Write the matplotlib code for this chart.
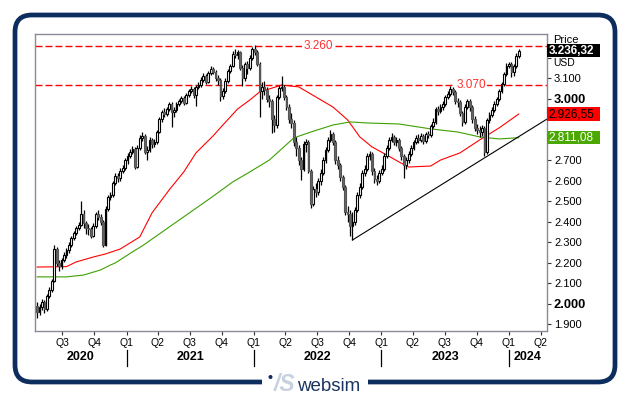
import numpy as np
import pandas as pd
import matplotlib
matplotlib.use("Agg")
import matplotlib.pyplot as plt
import matplotlib.dates as mdates
import matplotlib.transforms as mtransforms
from matplotlib.patches import FancyBboxPatch, Rectangle, Circle

plt.rcParams['font.family'] = ['Liberation Sans', 'DejaVu Sans']

# ==== Weekly candles ====
first_week = "2020-04-20"
first_open = 1990
closes = [
    1960, 1985, 2010, 1975, 2040, 2070, 2110, 2270, 2200, 2185,
    2215, 2240, 2265, 2290, 2320, 2345, 2370, 2385, 2440, 2395,
    2370, 2365, 2330, 2380, 2440, 2425, 2400, 2290, 2465, 2520,
    2530, 2590, 2625, 2615, 2650, 2665, 2700, 2720, 2740, 2755,
    2670, 2760, 2810, 2820, 2740, 2750, 2800, 2780, 2790, 2840,
    2900, 2935, 2925, 2950, 2975, 2935, 2945, 2975, 2990, 3005,
    2980, 3020, 3040, 3050, 3020, 3060, 3070, 3095, 3110, 3085,
    3125, 3145, 3130, 3100, 3095, 3015, 3040, 3090, 3135, 3160,
    3220, 3215, 3230, 3150, 3100, 3170, 3150, 3200, 3245, 3230,
    3170, 3040, 3060, 3045, 3000, 2990, 2900, 2875, 3010, 3055,
    3060, 3010, 2960, 2900, 2885, 2790, 2760, 2700, 2660, 2780,
    2790, 2650, 2490, 2560, 2545, 2600, 2640, 2700, 2750, 2800,
    2830, 2790, 2700, 2680, 2620, 2570, 2450, 2440, 2380, 2400,
    2460, 2530, 2570, 2640, 2660, 2720, 2730, 2650, 2610, 2600,
    2640, 2660, 2720, 2760, 2800, 2815, 2790, 2800, 2760, 2720,
    2680, 2700, 2730, 2760, 2790, 2810, 2800, 2820, 2795, 2830,
    2825, 2870, 2890, 2950, 2940, 2960, 2975, 3010, 3025, 3050,
    3035, 2990, 2985, 2930, 2890, 2960, 2990, 2960, 2900, 2860,
    2850, 2840, 2860, 2740, 2895, 2920, 2945, 2975, 3000, 3040,
    3075, 3120, 3160, 3170, 3130, 3160, 3210, 3236.32,
]
highs = [
    2010, 2000, 2025, 2020, 2050, 2085, 2120, 2290, 2280, 2215,
    2225, 2255, 2275, 2300, 2330, 2355, 2380, 2400, 2500, 2460,
    2405, 2390, 2375, 2395, 2450, 2460, 2440, 2410, 2480, 2530,
    2545, 2600, 2640, 2640, 2665, 2680, 2710, 2735, 2755, 2770,
    2765, 2775, 2825, 2839, 2830, 2770, 2815, 2810, 2805, 2850,
    2910, 2945, 2955, 2960, 2985, 2985, 2960, 2985, 3000, 3015,
    3015, 3030, 3050, 3062, 3060, 3070, 3085, 3105, 3125, 3120,
    3135, 3160, 3155, 3140, 3115, 3100, 3055, 3100, 3145, 3170,
    3235, 3244, 3240, 3235, 3165, 3180, 3185, 3215, 3255, 3263,
    3240, 3180, 3085, 3090, 3060, 3020, 3000, 2920, 3020, 3070,
    3112, 3070, 3020, 2975, 2930, 2895, 2815, 2775, 2715, 2795,
    2805, 2800, 2660, 2575, 2590, 2615, 2660, 2715, 2765, 2815,
    2849, 2840, 2800, 2720, 2690, 2630, 2580, 2480, 2460, 2450,
    2475, 2545, 2590, 2655, 2680, 2737, 2745, 2740, 2665, 2630,
    2655, 2680, 2735, 2775, 2815, 2832, 2825, 2815, 2810, 2770,
    2730, 2715, 2745, 2775, 2800, 2825, 2830, 2832, 2830, 2840,
    2845, 2880, 2905, 2960, 2965, 2975, 2990, 3020, 3040, 3063,
    3060, 3045, 3005, 2995, 2940, 2975, 3000, 3000, 2970, 2915,
    2880, 2870, 2875, 2868, 2905, 2935, 2960, 2990, 3012, 3050,
    3085, 3130, 3175, 3182, 3178, 3172, 3222, 3245,
]
lows = [
    1932, 1945, 1970, 1955, 1965, 2030, 2060, 2105, 2185, 2160,
    2170, 2205, 2225, 2250, 2280, 2310, 2335, 2360, 2380, 2370,
    2340, 2335, 2320, 2325, 2370, 2410, 2385, 2278, 2285, 2455,
    2505, 2520, 2580, 2595, 2600, 2640, 2655, 2685, 2710, 2730,
    2660, 2665, 2750, 2795, 2730, 2700, 2740, 2760, 2765, 2780,
    2835, 2890, 2910, 2915, 2940, 2863, 2910, 2935, 2965, 2980,
    2970, 2975, 3010, 3030, 3005, 2966, 3050, 3060, 3085, 3075,
    3080, 3115, 3120, 3090, 3070, 2990, 3000, 3030, 3080, 3125,
    3155, 3200, 3195, 3140, 3063, 3090, 3120, 3140, 3190, 3215,
    3160, 2912, 3000, 3020, 2985, 2960, 2834, 2840, 2860, 3000,
    3040, 2995, 2945, 2885, 2860, 2770, 2720, 2680, 2605, 2650,
    2740, 2640, 2468, 2480, 2520, 2530, 2580, 2630, 2690, 2740,
    2790, 2775, 2685, 2660, 2600, 2555, 2435, 2400, 2330, 2312,
    2385, 2450, 2515, 2560, 2625, 2650, 2700, 2630, 2590, 2580,
    2590, 2630, 2650, 2710, 2750, 2790, 2775, 2770, 2745, 2700,
    2615, 2660, 2690, 2720, 2750, 2780, 2785, 2790, 2780, 2785,
    2810, 2815, 2860, 2880, 2920, 2930, 2945, 2965, 3000, 3015,
    3020, 2975, 2960, 2915, 2870, 2880, 2950, 2940, 2885, 2845,
    2830, 2815, 2820, 2722, 2730, 2885, 2910, 2935, 2965, 2990,
    3030, 3065, 3110, 3150, 3105, 3110, 3150, 3200,
]

# moving averages, sampled at week numbers
red_ma_week = [0, 12, 16, 23, 28, 34, 42, 47, 54, 60, 65, 72, 75, 82, 87, 91, 95,
               100, 107, 114, 121, 127, 132, 137, 143, 148, 152, 161, 165, 173,
               181, 189, 197]
red_ma_val = [2180, 2182, 2205, 2229, 2244, 2268, 2327, 2444, 2556, 2644, 2737,
              2820, 2860, 2951, 2995, 3034, 3049, 3068, 3059, 3010, 2961, 2898,
              2815, 2766, 2727, 2693, 2668, 2673, 2702, 2737, 2800, 2859, 2926.55]
green_ma_week = [0, 12, 19, 26, 30, 32, 39, 43, 57, 71, 80, 87, 95, 105, 112,
                 121, 128, 135, 148, 161, 172, 181, 189, 197]
green_ma_val = [2132, 2132, 2141, 2166, 2190, 2200, 2254, 2283, 2400, 2517, 2595,
                2644, 2702, 2810, 2839, 2873, 2888, 2883, 2878, 2854, 2839, 2815,
                2805, 2811.08]

trend_dates = ["2022-10-10", "2024-04-19"]
trend_vals = [2312, 2902]

levels = [3260, 3070]
level_labels = ["3.260", "3.070"]

quarter_dates = pd.date_range("2020-07-01", "2024-04-01", freq="QS")
years = [2020, 2021, 2022, 2023, 2024]

# ==== Figure ====
fig = plt.figure(figsize=(6.29, 3.98), dpi=100)

# frame + logo drawn in pixel coordinates
bg = fig.add_axes([0, 0, 1, 1], zorder=-1)
bg.set_xlim(0, 629)
bg.set_ylim(398, 0)
bg.axis("off")
navy = "#0d2d5e"
bg.add_patch(FancyBboxPatch((15, 15), 600, 367, boxstyle="round,pad=0,rounding_size=17",
                            fill=False, ec=navy, lw=3.4))
bg.add_patch(Rectangle((262, 372), 106, 20, fc="white", ec="none", zorder=3))
bg.add_patch(Circle((270.5, 377), 2.0, fc=navy, ec="none", zorder=4))
bg.text(285, 391, "/S", fontsize=16.5, fontstyle="italic", fontweight="bold",
        color="#c7d1df", ha="center", va="baseline", zorder=4)
bg.text(297, 391, "websim", fontsize=13.5, color="#1b3461", ha="left",
        va="baseline", zorder=4)

ax = fig.add_axes([35 / 629, 1 - 331 / 398, 512 / 629, 297 / 398])

dates = pd.date_range(first_week, periods=len(closes), freq="7D")
x = mdates.date2num(dates)
c = np.array(closes, dtype=float)
o = np.r_[first_open, c[:-1]]
h = np.array(highs, dtype=float)
l = np.array(lows, dtype=float)
up = c >= o

ax.vlines(x, l, h, color="black", lw=0.9, zorder=3)
ax.bar(x[up], (c - o)[up], bottom=o[up], width=5.0, facecolor="white",
       edgecolor="black", lw=0.8, zorder=4)
ax.bar(x[~up], (o - c)[~up], bottom=c[~up], width=5.0, facecolor="#666666",
       edgecolor="#555555", lw=0.8, zorder=4)

ax.plot(x[red_ma_week], red_ma_val, color="#ff0000", lw=0.8, zorder=2)
ax.plot(x[green_ma_week], green_ma_val, color="#3ea000", lw=0.8, zorder=2)
ax.plot(pd.to_datetime(trend_dates), trend_vals, color="black", lw=0.8, zorder=2)

label_pos = [pd.Timestamp("2022-07-03"), pd.Timestamp("2023-09-14")]
for lv, lab, pos in zip(levels, level_labels, label_pos):
    ax.axhline(lv, color="#ff0000", lw=1.0, ls=(0, (5, 2.2)), zorder=1)
    ax.text(pos, lv, lab, color="#ff3030", fontsize=8.5, ha="center", va="center",
            bbox=dict(fc="white", ec="none", pad=1.0), zorder=1.5)

ax.set_xlim(pd.Timestamp("2020-04-14"), pd.Timestamp("2024-04-19"))
ax.set_ylim(1868, 3317)

# ==== Axes styling ====
for sp in ax.spines.values():
    sp.set_color("#8a8a9a")
    sp.set_linewidth(1.0)

ax.set_xticks(quarter_dates)
ax.set_xticklabels(["Q%d" % d.quarter for d in quarter_dates], fontsize=7.5)
ax.tick_params(axis="x", length=3, pad=2, color="#333333")

# 2.800, 2.900 and 3.200 sit under the value boxes / axis title
yt = list(range(1900, 3300, 100))
ax.yaxis.tick_right()
ax.set_yticks(yt)
ax.set_yticklabels(["" if v in (2800, 2900, 3200) else f"{v:,}".replace(",", ".")
                    for v in yt], fontsize=8)
ax.tick_params(axis="y", length=3, pad=2, color="#333333")
for v, t in zip(yt, ax.get_yticklabels()):
    if v in (2000, 3000):
        t.set_fontweight("bold")
        t.set_fontsize(9.3)

# year labels and separators under the quarters
bt = mtransforms.blended_transform_factory(ax.transData, ax.transAxes)
xmin, xmax = ax.get_xlim()
for yr in years:
    start = max(mdates.date2num(pd.Timestamp(f"{yr}-01-01")), xmin)
    end = min(mdates.date2num(pd.Timestamp(f"{yr + 1}-01-01")), xmax)
    ax.text((start + end) / 2, -0.088, str(yr), transform=bt, fontsize=9,
            fontweight="bold", ha="center", va="center", clip_on=False)
    if yr > years[0]:
        ax.plot([start, start], [-0.064, -0.118], transform=bt, color="black",
                lw=0.9, clip_on=False)

# right-side value boxes
rt = mtransforms.blended_transform_factory(ax.transAxes, ax.transData)
boxes = [(3236.32, "3.236,32", "#000000", "white", "bold"),
         (2926.55, "2.926,55", "#ff0000", "black", "normal"),
         (2811.08, "2.811,08", "#4aa800", "white", "normal")]
for val, txt, fc, tc, fw in boxes:
    ax.add_patch(Rectangle((1.0, val - 32), 53 / 512, 64, transform=rt, fc=fc,
                           ec="none", clip_on=False, zorder=6))
    ax.text(1.0 + 1.5 / 512, val, txt, transform=rt, color=tc, fontsize=8.5,
            fontweight=fw, ha="left", va="center", clip_on=False, zorder=7)

ax.text(1.0 + 6 / 512, 3287, "Price", transform=rt, fontsize=8, ha="left",
        va="center", clip_on=False, zorder=5)
ax.text(1.0 + 6 / 512, 3176, "USD", transform=rt, fontsize=7.5, ha="left",
        va="center", clip_on=False, zorder=5)

fig.savefig("out.png", dpi=100)
